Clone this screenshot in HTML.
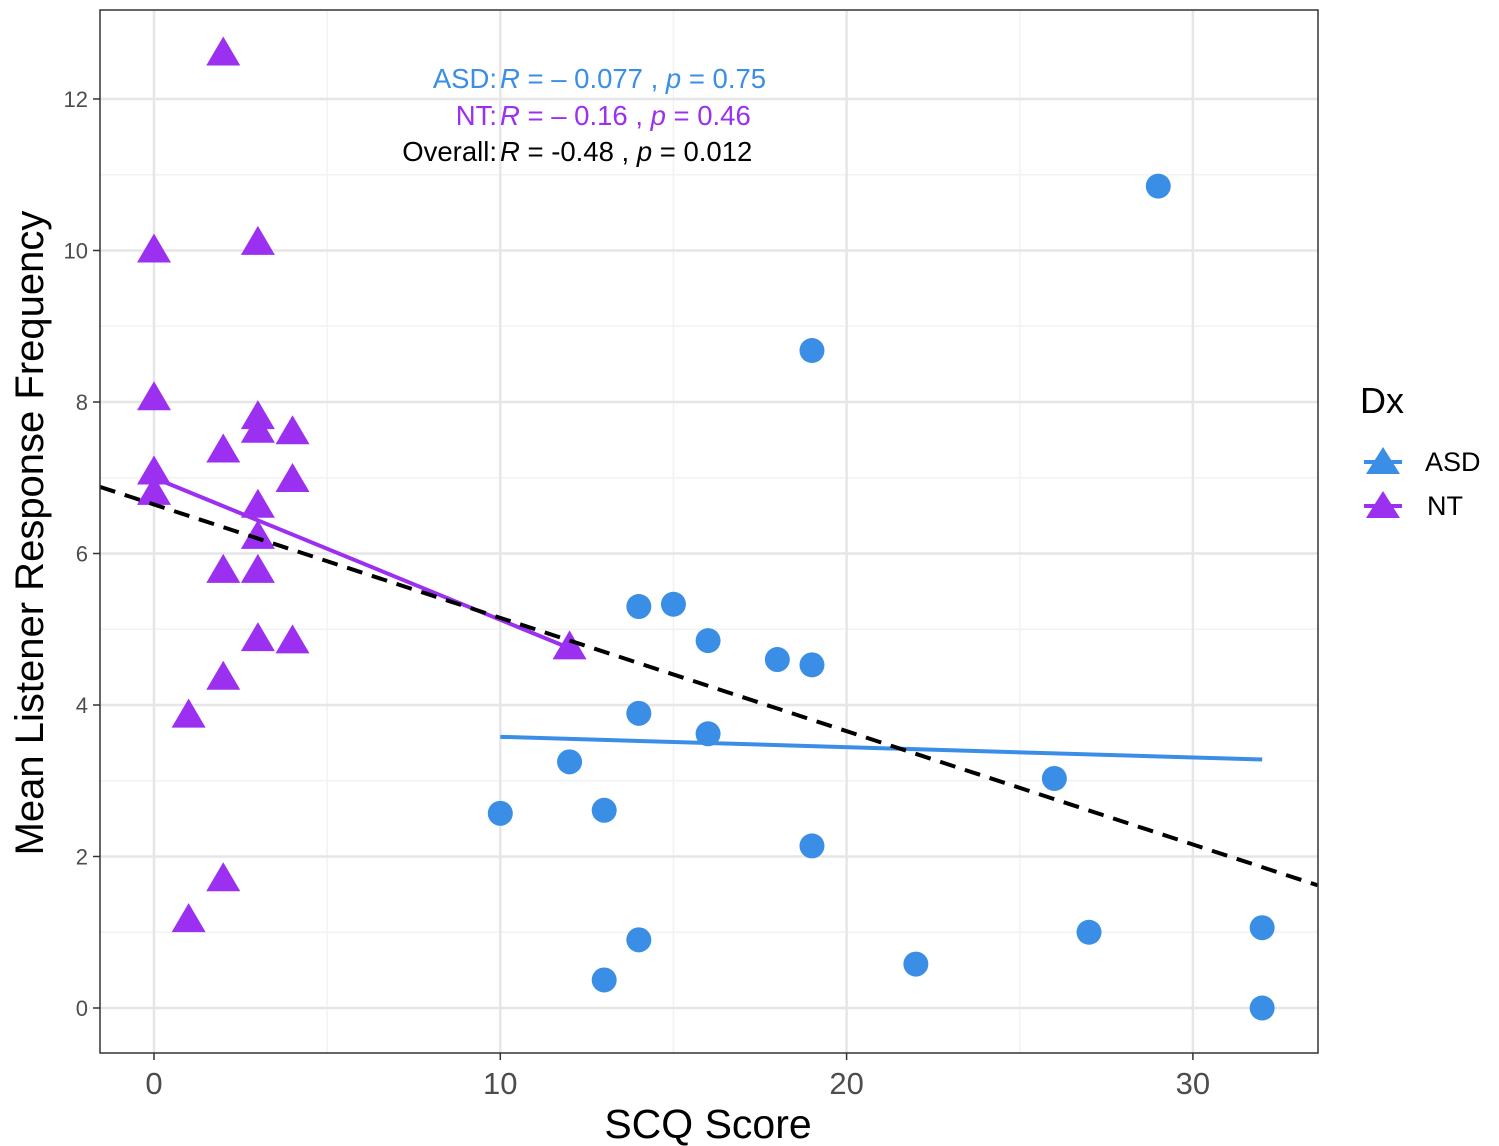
<!DOCTYPE html>
<html><head><meta charset="utf-8">
<style>
html,body{margin:0;padding:0;background:#fff;}
svg{display:block;font-family:"Liberation Sans",sans-serif;}
</style></head>
<body>
<svg id="chart" width="1499" height="1146" viewBox="0 0 1499 1146"></svg>
<script>
const ntX=[2,0,3,0,3,3,4,2,4,0,0,3,3,2,3,3,4,2,1,12,2,1];
const ntY=[12.6,10.0,10.1,8.05,7.8,7.62,7.6,7.36,6.97,7.07,6.8,6.63,6.22,5.77,5.77,4.87,4.84,4.36,3.86,4.76,1.7,1.16];
const asdX=[29,19,14,15,16,18,19,14,16,12,26,10,13,19,27,32,14,22,13,32];
const asdY=[10.85,8.68,5.3,5.33,4.85,4.6,4.53,3.89,3.62,3.25,3.03,2.57,2.61,2.14,1.0,1.06,0.9,0.58,0.37,0.0];
const ntFit=[[0,7.0],[12,4.75]];
const asdFit=[[10,3.58],[32,3.28]];
const overallFit=[[-1.56,6.88],[33.6,1.62]];
const xTicks=[0,10,20,30];
const xMinor=[5,15,25];
const yTicks=[0,2,4,6,8,10,12];
const yMinor=[1,3,5,7,9,11];

const L=100,R=1318,T=10,B=1053;
const sx=v=>154+v*34.63;
const sy=v=>1008-v*75.75;
const NS="http://www.w3.org/2000/svg";
const svg=document.getElementById('chart');
function mk(tag,attrs,parent){const e=document.createElementNS(NS,tag);for(const k in attrs)e.setAttribute(k,attrs[k]);(parent||svg).appendChild(e);return e;}

const grid=mk('g',{});


xMinor.forEach(v=>mk('line',{x1:sx(v),x2:sx(v),y1:T,y2:B,stroke:'#f2f2f2','stroke-width':1.5},grid));
yMinor.forEach(v=>mk('line',{x1:L,x2:R,y1:sy(v),y2:sy(v),stroke:'#f2f2f2','stroke-width':1.5},grid));
xTicks.forEach(v=>mk('line',{x1:sx(v),x2:sx(v),y1:T,y2:B,stroke:'#e6e6e6','stroke-width':2.5},grid));
yTicks.forEach(v=>mk('line',{x1:L,x2:R,y1:sy(v),y2:sy(v),stroke:'#e6e6e6','stroke-width':2.5},grid));

const nt=mk('line',{x1:sx(ntFit[0][0]),y1:sy(ntFit[0][1]),x2:sx(ntFit[1][0]),y2:sy(ntFit[1][1]),stroke:'#9b30f0','stroke-width':4});


const as=mk('line',{x1:sx(asdFit[0][0]),y1:sy(asdFit[0][1]),x2:sx(asdFit[1][0]),y2:sy(asdFit[1][1]),stroke:'#3a8ee6','stroke-width':4});



const tri=(cx,cy,fill,p)=>mk('polygon',{points:`${cx},${cy-17} ${cx-17},${cy+12} ${cx+17},${cy+12}`,fill:fill},p);
const ntG=mk('g',{});


ntX.forEach((x,i)=>{const t=tri(sx(x),sy(ntY[i]),'#9b30f0',ntG);

});
const asG=mk('g',{});


asdX.forEach((x,i)=>{const c=mk('circle',{cx:sx(x),cy:sy(asdY[i]),r:12.5,fill:'#3a8ee6'},asG);

});

const ov=mk('line',{x1:sx(overallFit[0][0]),y1:sy(overallFit[0][1]),x2:sx(overallFit[1][0]),y2:sy(overallFit[1][1]),stroke:'#000','stroke-width':4,'stroke-dasharray':'16,10'});



const border=mk('rect',{x:L,y:T,width:R-L,height:B-T,fill:'none',stroke:'#333','stroke-width':1.5});



xTicks.forEach(v=>{mk('line',{x1:sx(v),x2:sx(v),y1:B,y2:B+7,stroke:'#333','stroke-width':1.5});
const t=mk('text',{x:sx(v),y:1094,'text-anchor':'middle','font-size':31,fill:'#4d4d4d'});t.textContent=v;

});
yTicks.forEach(v=>{mk('line',{x1:L-7,x2:L,y1:sy(v),y2:sy(v),stroke:'#333','stroke-width':1.5});
const t=mk('text',{x:88,y:sy(v)+8,'text-anchor':'end','font-size':22,fill:'#4d4d4d'});t.textContent=v;

});
</script>
<svg style="position:absolute;left:0;top:0" width="1499" height="1146">
<text x="708" y="1138" text-anchor="middle" font-size="41" fill="#000" font-family="Liberation Sans,sans-serif">SCQ Score</text>
<text transform="translate(43,533) rotate(-90)" text-anchor="middle" font-size="40" fill="#000" font-family="Liberation Sans,sans-serif">Mean Listener Response Frequency</text>
<g font-family="Liberation Sans,sans-serif" font-size="27.5">
<text x="497" y="88" text-anchor="end" fill="#3a8ee6">ASD:</text>
<text x="500" y="88" fill="#3a8ee6"><tspan font-style="italic">R</tspan> = – 0.077 , <tspan font-style="italic">p</tspan> = 0.75</text>
<text x="497" y="125" text-anchor="end" fill="#9b30f0">NT:</text>
<text x="500" y="125" fill="#9b30f0"><tspan font-style="italic">R</tspan> = – 0.16 , <tspan font-style="italic">p</tspan> = 0.46</text>
<text x="497" y="161" text-anchor="end" fill="#000">Overall:</text>
<text x="500" y="161" fill="#000"><tspan font-style="italic">R</tspan> = -0.48 , <tspan font-style="italic">p</tspan> = 0.012</text>
</g>
<g font-family="Liberation Sans,sans-serif">
<text x="1360" y="413" font-size="36" fill="#000">Dx</text>
<g>
<line x1="1364" x2="1402" y1="462" y2="462" stroke="#3a8ee6" stroke-width="4"/>
<polygon points="1383,447 1366,474 1400,474" fill="#3a8ee6"/>
<text x="1425" y="471" font-size="27" fill="#000">ASD</text>
</g>
<g>
<line x1="1364" x2="1402" y1="506" y2="506" stroke="#9b30f0" stroke-width="4"/>
<polygon points="1383,491 1366,518 1400,518" fill="#9b30f0"/>
<text x="1427" y="515" font-size="27" fill="#000">NT</text>
</g>
</g>
</svg>
</body></html>
